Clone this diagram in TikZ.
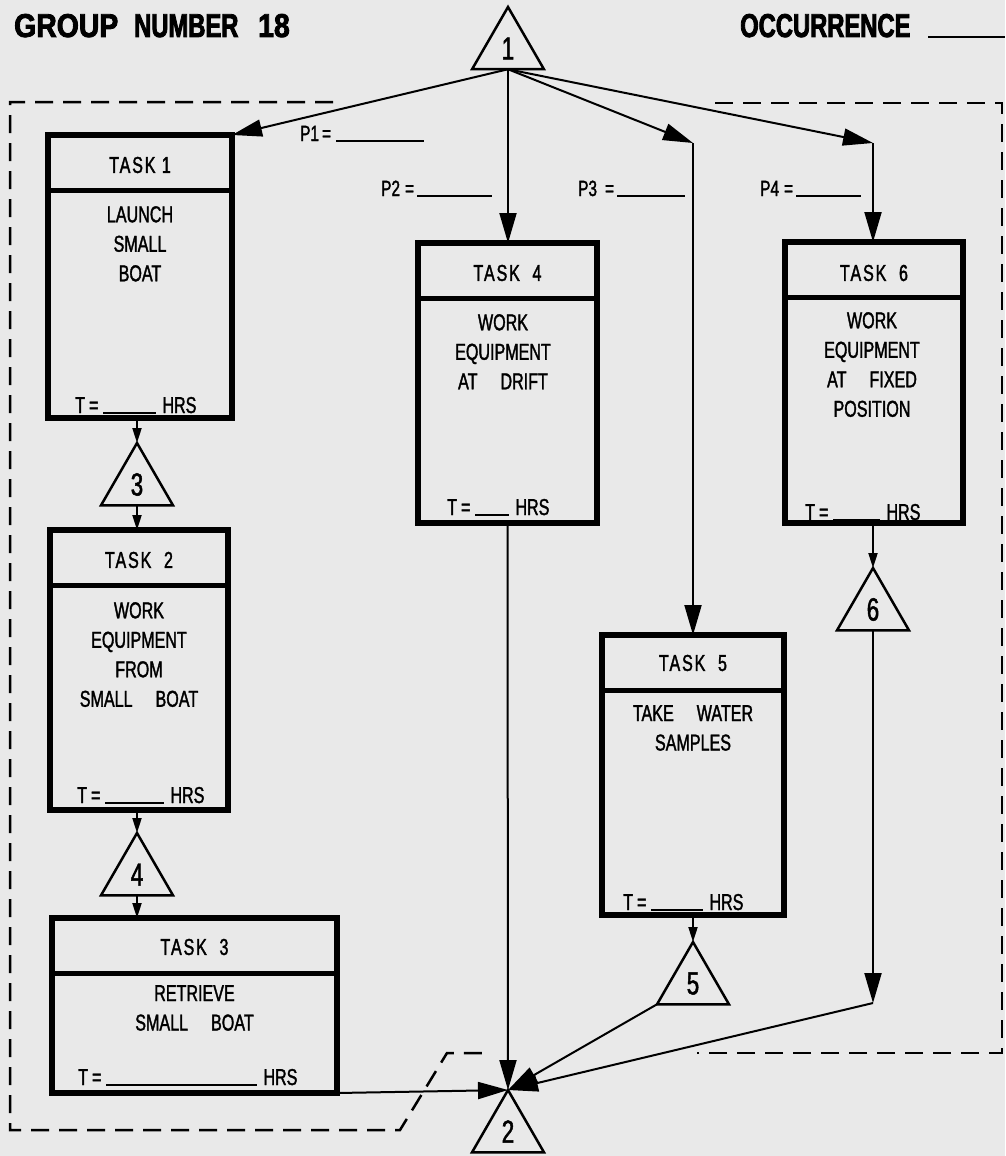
\documentclass[tikz,border=0pt]{standalone}
\usepackage{fontspec}
\usetikzlibrary{shapes.geometric,arrows.meta}
\newfontfamily\cf[FakeStretch=0.7,FakeBold=1.5]{Liberation Sans}
\newfontfamily\hf[FakeStretch=0.7,FakeBold=1.5,LetterSpace=8]{Liberation Sans}
\newfontfamily\tfa[FakeStretch=0.86,FakeBold=2.5]{Liberation Sans Bold}
\newfontfamily\tfb[FakeStretch=0.72,FakeBold=2.5]{Liberation Sans Bold}
\definecolor{paper}{RGB}{233,233,233}
\newcommand\blank[1]{\rule[-1pt]{#1}{1.6pt}}
\newcommand\tline[1]{T\hspace{4pt}=\hspace{5pt}\blank{#1}\hspace{6pt}HRS}
\begin{document}
\begin{tikzpicture}[x=1pt,y=-1pt,
  taskbox/.style={draw,rectangle,line width=5.5pt,inner sep=0pt,outer sep=0pt},
  divline/.style={line width=5pt},
  tri/.style={draw,regular polygon,regular polygon sides=3,minimum size=83pt,
    inner sep=0pt,outer sep=0pt,line width=2.5pt,font=\cf\fontsize{32}{32}\selectfont},
  hdr/.style={inner sep=0pt,font=\hf\fontsize{23}{23}\selectfont},
  body/.style={inner sep=0pt,anchor=north,align=center,font=\cf\fontsize{23}{29.5}\selectfont},
  tl/.style={inner sep=0pt,anchor=base west,font=\cf\fontsize{23}{23}\selectfont},
  plab/.style={inner sep=0pt,anchor=base west,font=\cf\fontsize{22}{22}\selectfont},
  ttla/.style={inner sep=0pt,anchor=base west,font=\tfa\fontsize{33}{33}\selectfont},
  ttlb/.style={inner sep=0pt,anchor=base west,font=\tfb\fontsize{33}{33}\selectfont},
  arr/.style={line width=2pt,-{Triangle[length=30pt,width=17pt]}},
  sarr/.style={line width=2pt,-{Triangle[length=15pt,width=9pt]}},
  bound/.style={line width=2.5pt,dash pattern=on 18pt off 10pt}]
\fill[paper] (0,0) rectangle (1005,1156);
\useasboundingbox (0,0) rectangle (1005,1156);

% titles
\node[ttla] (g1) at (14,37) {GROUP};
\node[ttlb] (g2) at (134,37) {NUMBER};
\node[ttla] (g3) at (258,37) {18};
\node[ttlb] (occ) at (740,37) {OCCURRENCE};
\coordinate (occa) at (928,37);
\coordinate (occb) at (1005,37);
\draw[line width=2.5pt] (occa) -- (occb);

% boundary
\draw[bound] (333,102) -- (10,102) -- (10,1130) -- (400,1130) -- (447,1053) -- (488,1053);
\draw[bound] (715,103) -- (1002,103) -- (1002,1053) -- (697,1053);

% task boxes
\node[taskbox,minimum width=184pt,minimum height=283pt] (t1) at (140,276.5) {};
\node[taskbox,minimum width=179pt,minimum height=280pt] (t4) at (507.5,383) {};
\node[taskbox,minimum width=178pt,minimum height=281pt] (t6) at (874,382.5) {};
\node[taskbox,minimum width=178pt,minimum height=280pt] (t2) at (139,670) {};
\node[taskbox,minimum width=182pt,minimum height=280pt] (t5) at (693,775) {};
\node[taskbox,minimum width=285pt,minimum height=175pt] (t3) at (194.5,1005.5) {};
\foreach \t in {t1,t4,t6,t2,t5,t3}
  \draw[divline] ([yshift=-55pt]\t.north west) -- ([yshift=-55pt]\t.north east);

% headers
\node[hdr] (h1) at (140,165) {TASK 1};
\node[hdr] (h4) at (507.5,273) {TASK\ \ 4};
\node[hdr] (h6) at (874,273) {TASK\ \ 6};
\node[hdr] (h2) at (139,560) {TASK\ \ 2};
\node[hdr] (h5) at (693,663) {TASK\ \ 5};
\node[hdr] (h3) at (194.5,947) {TASK\ \ 3};

% bodies
\node[body] (b1) at (140,206) {LAUNCH\\SMALL\\BOAT};
\node[body] (b4) at (503,314) {WORK\\EQUIPMENT\\AT\quad DRIFT};
\node[body] (b6) at (872,312) {WORK\\EQUIPMENT\\AT\quad FIXED\\POSITION};
\node[body] (b2) at (139,602) {WORK\\EQUIPMENT\\FROM\\SMALL\quad BOAT};
\node[body] (b5) at (693,705) {TAKE\quad WATER\\SAMPLES};
\node[body] (b3) at (194.5,985) {RETRIEVE\\SMALL\quad BOAT};

% time lines
\node[tl] (T1) at (75,413) {\tline{53pt}};
\node[tl] (T4) at (447,515) {\tline{34pt}};
\node[tl] (T6) at (805,520) {\tline{47pt}};
\node[tl] (T2) at (77,803) {\tline{59pt}};
\node[tl] (T5) at (623,910) {\tline{52pt}};
\node[tl] (T3) at (78,1085) {\tline{151pt}};

% triangles
\node[tri] (n1) at (508,48.5) {1};
\node[tri] (n2) at (508,1131.5) {2};
\node[tri] (n3) at (137,484.5) {3};
\node[tri] (n4) at (137,874.5) {4};
\node[tri] (n5) at (693,983.5) {5};
\node[tri] (n6) at (873,609.5) {6};

% probability labels
\node[plab] (p1) at (300,141) {P1\hspace{3pt}=\hspace{5pt}\blank{88pt}};
\node[plab] (p2) at (381,196) {P2\hspace{5pt}=\hspace{3pt}\blank{75pt}};
\node[plab] (p3) at (578,196) {P3\hspace{8pt}=\hspace{3pt}\blank{68pt}};
\node[plab] (p4) at (760,196) {P4\hspace{5pt}=\hspace{3pt}\blank{65pt}};

% connectors
\coordinate (c5) at (693,143);
\coordinate (c6) at (873,143);
\coordinate (c7) at (873,1003);
\draw[arr] (n1.side 2) -- (t1.north east);
\draw[arr] (n1.side 2) -- (n1.side 2 |- t4.north);
\draw[arr] (n1.side 2) -- (c5);
\draw[arr] (c5) -- (t5.north);
\draw[arr] (n1.side 2) -- (c6);
\draw[arr] (c6) -- (c6 |- t6.north);

\draw[sarr] (n3.corner 1 |- t1.south) -- (n3.corner 1);
\draw[sarr] (n3.side 2) -- (n3.side 2 |- t2.north);
\draw[sarr] (n4.corner 1 |- t2.south) -- (n4.corner 1);
\draw[sarr] (n4.side 2) -- (n4.side 2 |- t3.north);
\draw[sarr] (t5.south) -- (n5.corner 1);
\draw[sarr] (n6.corner 1 |- t6.south) -- (n6.corner 1);

\draw[arr] (n6.side 2) -- (c7);
\draw[arr] (c7) -- (n2.corner 1);
\draw[arr] (n5.corner 2) -- (n2.corner 1);
\draw[arr] (t4.south) -- (n2.corner 1);
\draw[arr] (t3.south east) -- (n2.corner 1);
\end{tikzpicture}
\end{document}
